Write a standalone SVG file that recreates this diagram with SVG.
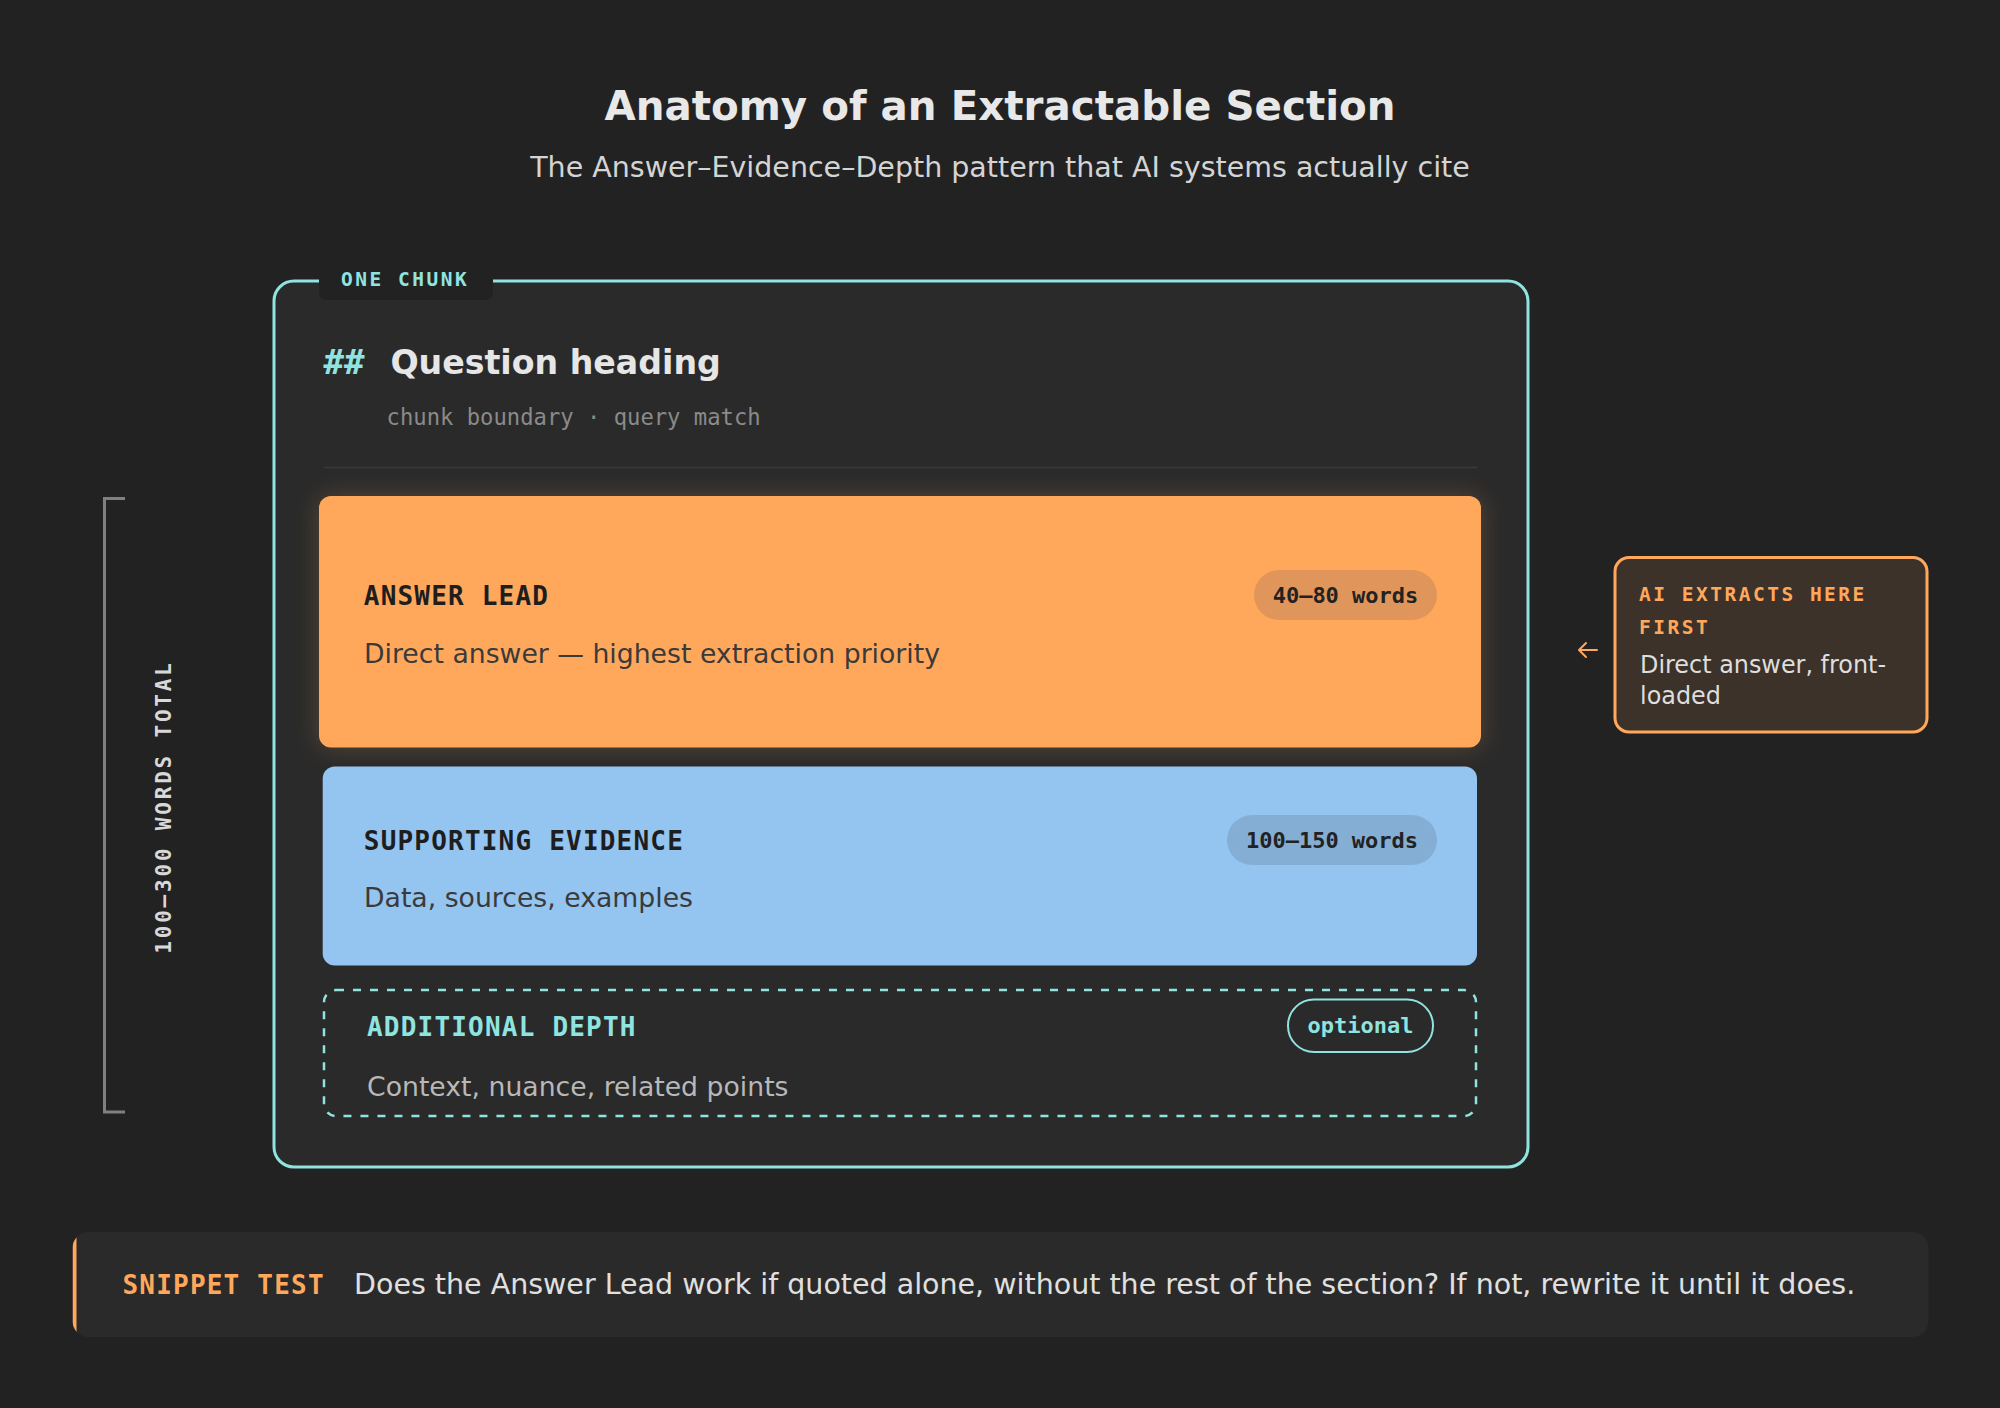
<svg xmlns="http://www.w3.org/2000/svg" width="2000" height="1408" viewBox="0 0 2000 1408">
<style>
.sans{font-family:"DejaVu Sans","Liberation Sans",sans-serif}
.mono{font-family:"DejaVu Sans Mono","Liberation Mono",monospace;font-weight:700}
.lbl{font-size:26px;letter-spacing:1.2px}
.tag{font-size:19.5px;letter-spacing:2.5px}
.badge{font-size:22px;fill:#222222;text-anchor:middle}
.body{font-size:26.7px}
.cyan{fill:#90e4e0}
.orange{fill:#ffa85c}
</style>
<defs>
<filter id="glow" x="-10%" y="-30%" width="120%" height="160%">
<feDropShadow dx="0" dy="0" stdDeviation="12" flood-color="#ffa85c" flood-opacity="0.22"/>
</filter>
<clipPath id="barclip"><rect x="72.5" y="1232" width="1856" height="105" rx="16"/></clipPath>
</defs>
<rect width="2000" height="1408" fill="#222222"/>

<g id="title">
<text class="sans" x="1000" y="120" text-anchor="middle" font-size="40.4" font-weight="700" fill="#e8e8e8">Anatomy of an Extractable Section</text>
<text class="sans" x="1000" y="177" text-anchor="middle" font-size="28.5" fill="#d4d4d4">The Answer–Evidence–Depth pattern that AI systems actually cite</text>
</g>

<g id="chunk">
<rect x="274" y="281" width="1254" height="886" rx="20" fill="#2a2a2a" stroke="#90e4e0" stroke-width="3"/>
<path d="M319 266 H493 V292 Q493 300 485 300 H327 Q319 300 319 292 Z" fill="#222222"/>
<text class="mono tag cyan" x="341" y="286">ONE CHUNK</text>
</g>

<g id="heading">
<text class="mono cyan" x="323.5" y="374" font-size="34">##</text>
<text class="sans" x="390.4" y="374" font-size="33.2" font-weight="700" fill="#e6e6e6">Question heading</text>
<text class="mono" x="386.6" y="425" font-size="22.2" fill="#8a8a8a" style="font-weight:400">chunk boundary · query match</text>
<line x1="323.5" y1="467.5" x2="1477" y2="467.5" stroke="#3a3a3a" stroke-width="1.5"/>
</g>

<g id="answer-lead">
<rect x="319" y="496" width="1162" height="251.5" rx="12" fill="#ffa85c" filter="url(#glow)"/>
<text class="mono lbl" x="363.8" y="605" fill="#1e1e1e">ANSWER LEAD</text>
<text class="sans body" x="364" y="662.7" fill="#3a3a3a">Direct answer — highest extraction priority</text>
<rect x="1254" y="570" width="183" height="50" rx="25" fill="#e0965a"/>
<text class="mono badge" x="1345.5" y="602.7">40–80 words</text>
</g>

<g id="supporting-evidence">
<rect x="322.7" y="766.6" width="1154.3" height="199" rx="12" fill="#94c4f0"/>
<text class="mono lbl" x="363.8" y="850" fill="#1e1e1e">SUPPORTING EVIDENCE</text>
<text class="sans body" x="364" y="906.7" fill="#3a3a3a">Data, sources, examples</text>
<rect x="1227" y="815" width="210" height="50" rx="25" fill="#84aed4"/>
<text class="mono badge" x="1332" y="848">100–150 words</text>
</g>

<g id="additional-depth">
<rect x="324" y="990" width="1152" height="126" rx="12" fill="none" stroke="#90e4e0" stroke-width="2.5" stroke-dasharray="8 9"/>
<text class="mono lbl cyan" x="367" y="1035.7">ADDITIONAL DEPTH</text>
<text class="sans body" x="367" y="1096" fill="#b8b8b8">Context, nuance, related points</text>
<rect x="1288" y="999.5" width="145" height="52.5" rx="26" fill="none" stroke="#90e4e0" stroke-width="2"/>
<text class="mono badge" x="1360.5" y="1033" style="fill:#90e4e0">optional</text>
</g>

<g id="callout">
<rect x="1615" y="557.5" width="312" height="174.5" rx="14" fill="#3d3229" stroke="#ffa85c" stroke-width="3"/>
<text class="mono tag orange" x="1639" y="600.7">AI EXTRACTS HERE</text>
<text class="mono tag orange" x="1639" y="633.5">FIRST</text>
<text class="sans" x="1640" y="673" font-size="23.9" fill="#dedede">Direct answer, front-</text>
<text class="sans" x="1640" y="704" font-size="23.9" fill="#dedede">loaded</text>
</g>

<g id="connectors">
<path d="M1597 650 H1579 M1586 643 L1579 650 L1586 657" fill="none" stroke="#ffa85c" stroke-width="2" stroke-linecap="round" stroke-linejoin="round"/>
</g>

<g id="word-total">
<path d="M125 498.5 H104.5 V1112 H125" fill="none" stroke="#808080" stroke-width="3"/>
<text class="mono" x="170.7" y="807" font-size="21" letter-spacing="2.8" fill="#d8d8d8" text-anchor="middle" transform="rotate(-90 170.7 807)">100–300 WORDS TOTAL</text>
</g>

<g id="snippet-test">
<rect x="72.5" y="1232" width="1856" height="105" rx="16" fill="#2a2a2a"/>
<rect x="72.5" y="1232" width="4" height="105" fill="#ffa85c" clip-path="url(#barclip)"/>
<text class="mono lbl orange" x="122.5" y="1294">SNIPPET TEST</text>
<text class="sans" x="354" y="1294" font-size="28.5" fill="#e0e0e0">Does the Answer Lead work if quoted alone, without the rest of the section? If not, rewrite it until it does.</text>
</g>
</svg>
